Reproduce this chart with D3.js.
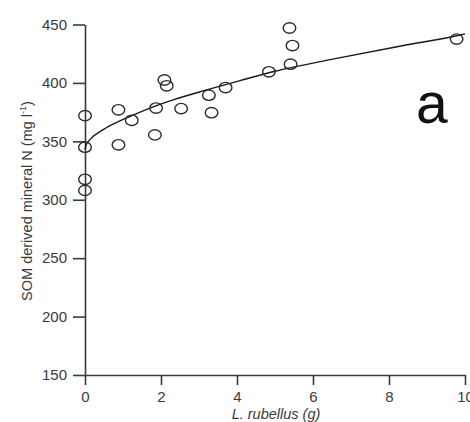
<!DOCTYPE html>
<html lang="en">
<head>
    <meta charset="UTF-8">
    <title>SOM derived mineral N vs L. rubellus</title>
    <script src="https://d3js.org/d3.v7.min.js"></script>
    <style>
        body {
            margin: 0;
            background: #fff;
        }
        svg {
            display: block;
            font-family: Arial, "Liberation Sans", sans-serif;
        }
        .axis path, .axis line {
            stroke: #3a3a3a;
            stroke-width: 1.6px;
        }
        .axis text {
            fill: #3a3a3a;
            font-size: 15px;
        }
        .pt {
            fill: none;
            stroke: #2a2a2a;
            stroke-width: 1.4px;
        }
        .fit {
            fill: none;
            stroke: #1a1a1a;
            stroke-width: 1.4px;
        }
    </style>
</head>
<body>
    <svg id="chart" width="470" height="422"></svg>

    <script>
        // observed points: earthworm biomass (g) vs mineral N
        const wormMass = [0, 0, 0, 0, 0.88, 0.88, 1.23, 1.84, 1.87, 2.09,
                          2.15, 2.53, 3.26, 3.33, 3.70, 4.84, 5.38, 5.46, 5.41, 9.78];
        const mineralN = [372, 345, 317.5, 308, 377, 347, 368, 355.5, 378.5, 402.5,
                          397.5, 378, 389.5, 374.5, 396, 409.5, 447, 432, 416, 437.5];

        // fitted curve
        const fitX = [0, 0.03, 0.13, 0.48, 0.92, 1.36, 1.71, 2.32, 3.2, 4.08, 5.0, 6.62, 8.38, 9.87, 10];
        const fitY = [343, 347, 351.5, 360, 367.5, 373.8, 378.5, 385.5, 394, 402, 410, 421, 432, 441, 442];

        const yTicks = [150, 200, 250, 300, 350, 400, 450];
        const xTicks = [0, 2, 4, 6, 8, 10];

        const svg = d3.select("#chart");

        const x = d3.scaleLinear().domain([0, 10]).range([85, 465]);
        const y = d3.scaleLinear().domain([150, 450]).range([375, 24.5]);

        // axes
        svg.append("g")
            .attr("class", "axis")
            .attr("transform", "translate(0,375)")
            .call(d3.axisBottom(x).tickValues(xTicks).tickSize(10).tickPadding(6).tickSizeOuter(0))
            .call(g => g.selectAll("text").attr("font-family", null).attr("font-size", null));

        svg.append("g")
            .attr("class", "axis")
            .attr("transform", "translate(85,0)")
            .call(d3.axisLeft(y).tickValues(yTicks).tickSize(12).tickPadding(6).tickSizeOuter(0))
            .call(g => g.selectAll("text").attr("font-family", null).attr("font-size", null));

        // fitted line
        const line = d3.line()
            .x((d, i) => x(fitX[i]))
            .y(d => y(d))
            .curve(d3.curveMonotoneX);

        svg.append("path")
            .attr("class", "fit")
            .attr("d", line(fitY));

        // open circle markers
        svg.append("g")
            .selectAll("ellipse")
            .data(wormMass)
            .enter()
            .append("ellipse")
            .attr("class", "pt")
            .attr("cx", d => x(d))
            .attr("cy", (d, i) => y(mineralN[i]))
            .attr("rx", 6.3)
            .attr("ry", 5.2);

        // axis titles
        svg.append("text")
            .attr("x", 276)
            .attr("y", 419)
            .attr("text-anchor", "middle")
            .attr("font-size", 14.5)
            .attr("font-style", "italic")
            .attr("fill", "#3a3a3a")
            .text("L. rubellus (g)");

        const yTitle = svg.append("text")
            .attr("transform", "translate(32,201) rotate(-90)")
            .attr("text-anchor", "middle")
            .attr("font-size", 14.5)
            .attr("fill", "#3a3a3a");
        yTitle.append("tspan").text("SOM derived mineral N (mg l");
        yTitle.append("tspan").attr("font-size", 9).attr("dy", -6).text("-1");
        yTitle.append("tspan").attr("dy", 6).text(")");

        // panel letter
        svg.append("text")
            .attr("x", 416)
            .attr("y", 123)
            .attr("font-size", 57)
            .attr("fill", "#111")
            .text("a");
    </script>
</body>
</html>
